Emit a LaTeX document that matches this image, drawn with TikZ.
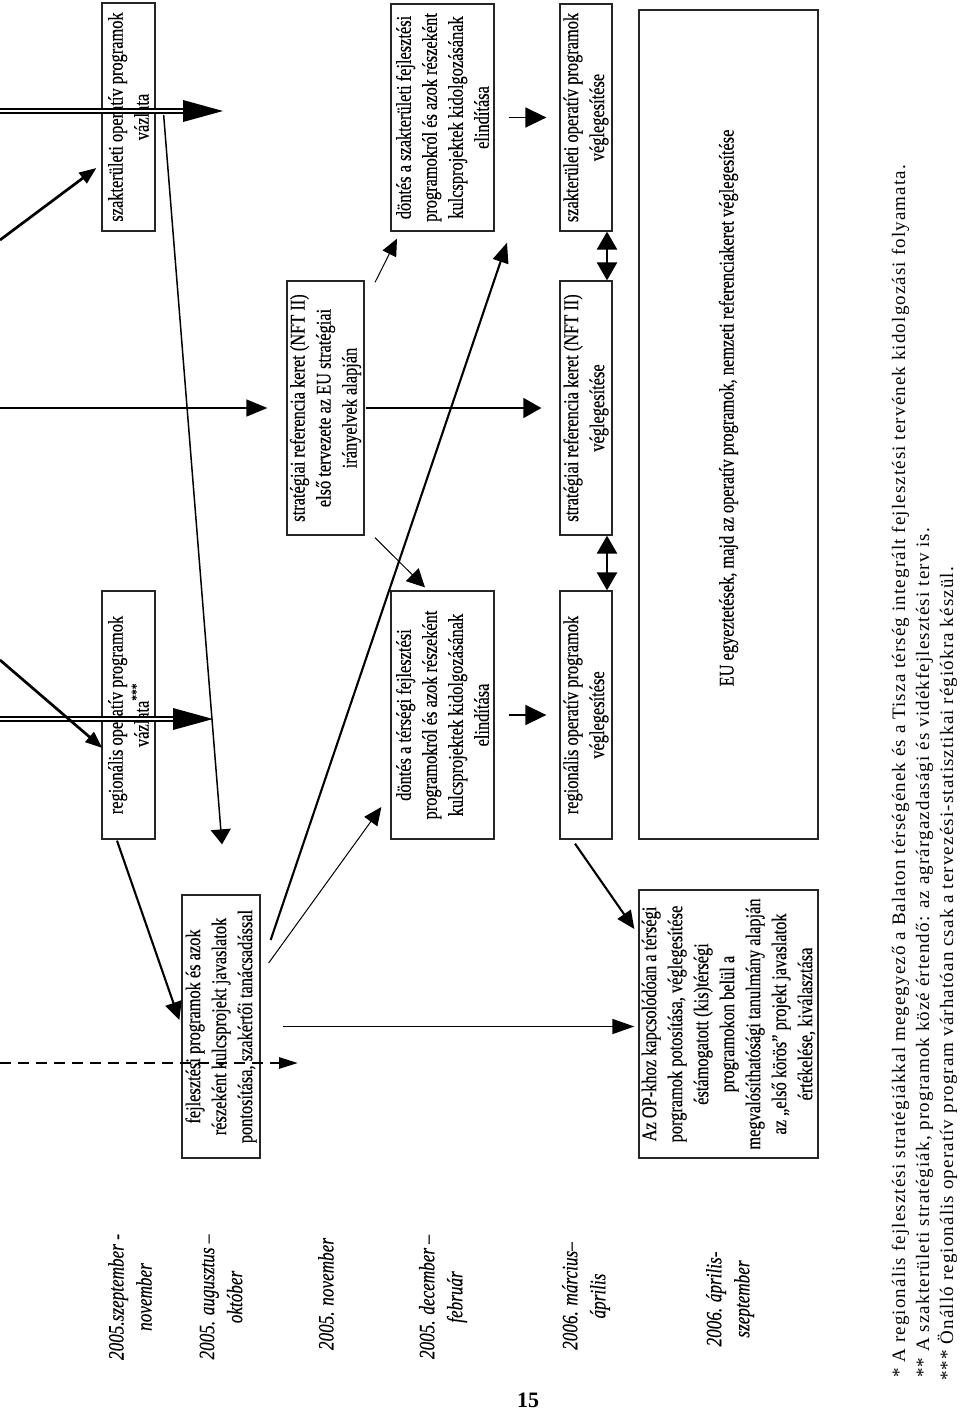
\documentclass[tikz,border=0pt]{standalone}
\usepackage{fontspec}
\setmainfont{Liberation Serif}
\newfontfamily\condfont[FakeStretch=0.78,FakeBold=0.3]{Liberation Serif}
\newfontfamily\notefont[LetterSpace=6]{Liberation Serif}
\usetikzlibrary{arrows.meta,calc}
\begin{document}
\begin{tikzpicture}[x=1pt,y=-1pt,
  box/.style={draw=black!85, line width=1.3pt, rotate=90, align=center, inner sep=0pt,
    font=\condfont\fontsize{21}{26}\selectfont},
  datelbl/.style={rotate=90, align=center, inner sep=0pt,
    font=\condfont\itshape\fontsize{22}{28}\selectfont},
  note/.style={rotate=90, anchor=base west, inner sep=0pt,
    font=\notefont\fontsize{19}{23}\selectfont},
  dbl/.style={line width=2.2pt, double=white, double distance=2.4pt},
  lwa/.style={line width=1pt},
  lwb/.style={line width=1.5pt},
  lwc/.style={line width=2.1pt},
  lwd/.style={line width=2.7pt},
]
\useasboundingbox (0,0) rectangle (960,1410);
\fill[white] (0,0) rectangle (960,1410);

% boxes
\node[box, minimum width=228pt, minimum height=53pt] (A) at (128.5,117)
  {szakterületi operatív programok\\vázlata};
\node[box, minimum width=248pt, minimum height=53pt] (B) at (128.5,715)
  {regionális operatív programok\\vázlata\textsuperscript{***}};
\node[box, minimum width=263pt, minimum height=78pt] (C) at (221,1026.5)
  {fejlesztési programok és azok\\részeként kulcsprojekt javaslatok\\pontosítása, szakértői tanácsadással};
\node[box, minimum width=254pt, minimum height=77pt] (D) at (325.5,408)
  {stratégiai referencia keret (NFT II)\\első tervezete az EU stratégiai\\irányelvek alapján};
\node[box, minimum width=227pt, minimum height=103pt] (E) at (442.5,117.5)
  {döntés a szakterületi fejlesztési\\programokról és azok részeként\\kulcsprojektek kidolgozásának\\elindítása};
\node[box, minimum width=248pt, minimum height=103pt] (F) at (442.5,715)
  {döntés a térségi fejlesztési\\programokról és azok részeként\\kulcsprojektek kidolgozásának\\elindítása};
\node[box, minimum width=227pt, minimum height=52pt] (G) at (586,117.5)
  {szakterületi operatív programok\\véglegesítése};
\node[box, minimum width=254pt, minimum height=52pt] (H) at (586,408)
  {stratégiai referencia keret (NFT II)\\véglegesítése};
\node[box, minimum width=248pt, minimum height=52pt] (I) at (586,715)
  {regionális operatív programok\\véglegesítése};
\node[box, minimum width=829pt, minimum height=179pt] (J) at (728.5,424.5)
  {\hspace*{33pt}EU egyeztetések, majd az operatív programok, nemzeti referenciakeret véglegesítése};
\node[box, minimum width=268pt, minimum height=179pt] (K) at (728.5,1024)
  {Az OP-khoz kapcsolódóan a térségi\\porgramok potosítása, véglegesítése\\éstámogatott (kis)térségi\\programokon belül a\\megvalósíthatósági tanulmány alapján\\az „első körös” projekt javaslatok\\értékelése, kiválasztása};

% period labels
\node[datelbl] (L1) at (130,1297) {2005.szeptember -\\november};
\node[datelbl] (L2) at (221,1297) {2005. augusztus –\\október};
\node[datelbl] (L3) at (326,1294) {2005. november};
\node[datelbl] (L4) at (443,1297) {2005. december –\\február};
\node[datelbl] (L5) at (586,1296) {2006. március–\\április};
\node[datelbl] (L6) at (730,1299) {2006. április-\\szeptember};

% free ends
\coordinate (d1s) at (0,111);   \coordinate (d1t) at (223,111);
\coordinate (d2s) at (0,719);   \coordinate (d2t) at (213,719);
\coordinate (a3s) at (0,240);
\coordinate (a4s) at (0,660);
\coordinate (a5s) at (0,408);   \coordinate (a5m) at (85,408);
\coordinate (a8s) at (0,1063);  \coordinate (a8t) at (298,1063);

% double arrows
\draw[dbl] (d1s) -- ($(d1t)+(-39,0)$);
\fill (d1t) -- ++(-40,-11) -- ++(0,22) -- cycle;
\draw[dbl] (d2s) -- ($(d2t)+(-39,0)$);
\fill (d2t) -- ++(-40,-11) -- ++(0,22) -- cycle;

% arrows from the left
\draw[lwd, -{Triangle[length=17pt,width=13pt]}] (a3s) -- ([xshift=-5pt,yshift=-51pt]A.north);
\draw[lwd, -{Triangle[length=17pt,width=13pt]}] (a4s) -- ([xshift=1pt,yshift=-33pt]B.north);
\draw[lwd] (a5s) -- (a5m);
\draw[lwb, -{Triangle[length=21pt,width=17pt]}, shorten >=19pt] (a5m) -- (D.north);
\draw[lwd, dash pattern=on 11pt off 7pt, -{Triangle[length=19pt,width=11pt]}] (a8s) -- (a8t);

% long line from A to C
\draw[lwb, -{Triangle[length=15pt,width=20pt]}] ([xshift=8pt,yshift=2pt]A.south) -- ([xshift=1pt,yshift=50pt]C.east);
% B -> C
\draw[lwc, -{Triangle[length=18pt,width=17pt]}] ([xshift=-11.5pt,yshift=-1pt]B.west) -- ([xshift=-2pt,yshift=6.5pt]C.north);
% C -> E
\draw[lwc, -{Triangle[length=20pt,width=16pt]}] ([xshift=10pt,yshift=86.5pt]C.south) -- ([xshift=64.5pt,yshift=-11pt]E.west);
% C -> F
\draw[lwa, -{Triangle[length=18pt,width=16pt]}] ([xshift=8pt,yshift=63.5pt]C.south) -- ([xshift=-9pt,yshift=-92pt]F.north);
% C -> K
\draw[lwb, -{Triangle[length=22pt,width=15pt]}, shorten <=22pt, shorten >=4pt] (C.south) -- (C.south -| K.north);
% D -> E, D -> F, D -> H
\draw[lwa, -{Triangle[length=17pt,width=15pt]}] ([xshift=49.5pt,yshift=-2pt]D.east) -- ([xshift=-45.5pt,yshift=-7pt]E.west);
\draw[lwa, -{Triangle[length=18pt,width=18pt]}] ([xshift=49.5pt,yshift=-2pt]D.west) -- ([xshift=-17.5pt,yshift=3pt]F.east);
\draw[lwb, -{Triangle[length=18pt,width=20pt]}, shorten <=1pt, shorten >=18pt] (D.south) -- (H.north);
% E -> G, F -> I
\draw[lwb, -{Triangle[length=21pt,width=20pt]}, shorten <=14pt, shorten >=13pt] (E.south) -- (G.north);
\draw[lwb, -{Triangle[length=21pt,width=20pt]}, shorten <=14pt, shorten >=13pt] (F.south) -- (I.north);
% G <-> H <-> I
\draw[lwd, {Triangle[length=18pt,width=20pt]}-{Triangle[length=18pt,width=20pt]}] ([xshift=21pt]G.west) -- ([xshift=21pt]H.east);
\draw[lwd, {Triangle[length=18pt,width=20pt]}-{Triangle[length=18pt,width=20pt]}] ([xshift=21pt]H.west) -- ([xshift=21pt]I.east);
% I -> K
\draw[lwc, -{Triangle[length=18pt,width=16pt]}] ([xshift=-11pt,yshift=-4pt]I.west) -- ([xshift=-4pt,yshift=95pt]K.north);

% footnotes
\node[note] (n1) at (905,1378) {* A regionális fejlesztési stratégiákkal megegyező a Balaton térségének és a Tisza térség integrált fejlesztési tervének kidolgozási folyamata.};
\node[note] (n2) at (929,1378) {** A szakterületi stratégiák, programok közé értendő: az agrárgazdasági és vidékfejlesztési terv is.};
\node[note] (n3) at (953,1381) {*** Önálló regionális operatív program várhatóan csak a tervezési-statisztikai régiókra készül.};

% page number
\node[font=\bfseries\fontsize{22}{22}\selectfont] (pg) at (528,1400) {15};
\end{tikzpicture}
\end{document}
